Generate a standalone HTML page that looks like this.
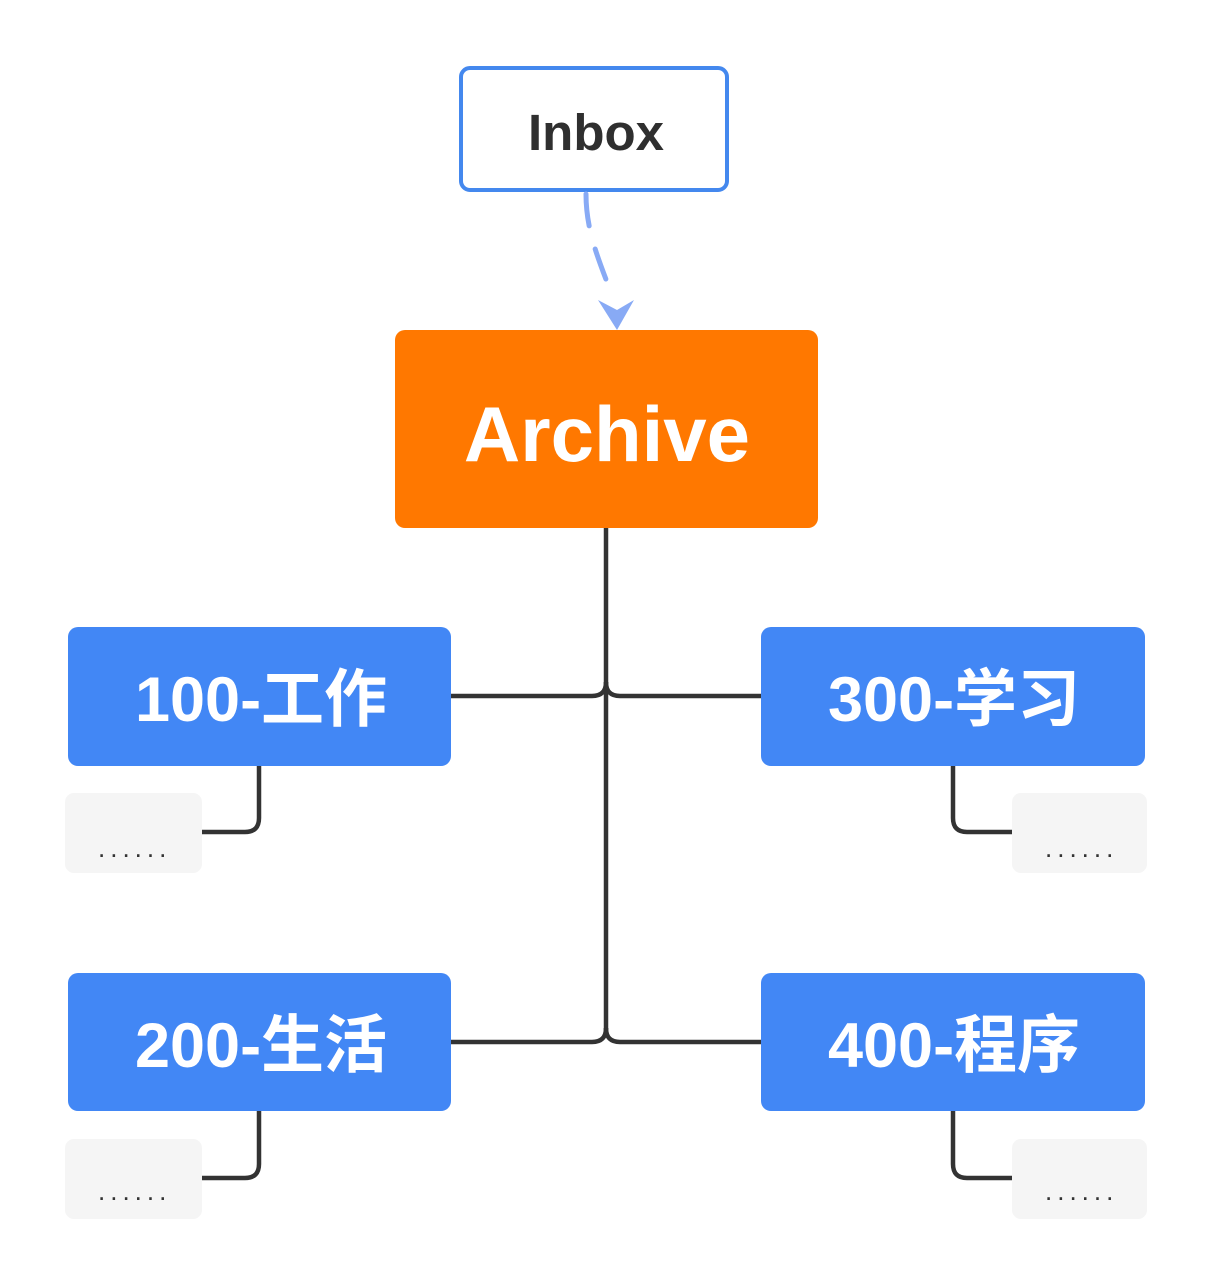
<!DOCTYPE html>
<html><head><meta charset="utf-8"><style>
html,body{margin:0;padding:0;background:#fff;}
svg{display:block;}
text{font-family:"Liberation Sans","Noto Sans CJK SC",sans-serif;font-weight:bold;}
</style></head><body>
<svg width="1211" height="1284" viewBox="0 0 1211 1284" xmlns="http://www.w3.org/2000/svg">
<rect x="0" y="0" width="1211" height="1284" fill="#fff"/>
<rect x="461" y="68" width="266" height="122" rx="9" fill="#fff" stroke="#4488ee" stroke-width="4"/>
<text x="596" y="150" font-size="51" fill="#2f2f2f" text-anchor="middle">Inbox</text>
<path d="M586,194 C586,230 598,258 610,290" fill="none" stroke="#88aaf5" stroke-width="5" stroke-linecap="round" stroke-dasharray="32,24"/>
<path d="M598,300 L617,330 L634,300 L617,310 Z" fill="#88aaf5"/>
<rect x="395" y="330" width="423" height="198" rx="10" fill="#ff7800"/>
<text x="607" y="461" font-size="78" fill="#fff" text-anchor="middle">Archive</text>
<g fill="none" stroke="#333" stroke-width="4.5">
<path d="M606,528 L606,1035"/>
<path d="M451,696 L592,696 Q606,696 606,682"/>
<path d="M761,696 L620,696 Q606,696 606,682"/>
<path d="M451,1042 L592,1042 Q606,1042 606,1028"/>
<path d="M761,1042 L620,1042 Q606,1042 606,1028"/>
<path d="M259,766 L259,818 Q259,832 245,832 L202,832"/>
<path d="M953,766 L953,818 Q953,832 967,832 L1012,832"/>
<path d="M259,1111 L259,1164 Q259,1178 245,1178 L202,1178"/>
<path d="M953,1111 L953,1164 Q953,1178 967,1178 L1012,1178"/>
</g>
<g fill="#4287f5">
<rect x="68" y="627" width="383" height="139" rx="10"/>
<rect x="761" y="627" width="384" height="139" rx="10"/>
<rect x="68" y="973" width="383" height="138" rx="10"/>
<rect x="761" y="973" width="384" height="138" rx="10"/>
</g>
<g font-size="63" fill="#fff" text-anchor="middle">
<text x="261" y="721">100-工作</text>
<text x="954" y="721">300-学习</text>
<text x="261" y="1067">200-生活</text>
<text x="954" y="1067">400-程序</text>
</g>
<g fill="#f5f5f5">
<rect x="65" y="793" width="137" height="80" rx="9"/>
<rect x="1012" y="793" width="135" height="80" rx="9"/>
<rect x="65" y="1139" width="137" height="80" rx="9"/>
<rect x="1012" y="1139" width="135" height="80" rx="9"/>
</g>
<g fill="#333">
<text x="98" y="857" font-size="26" style="font-weight:normal" letter-spacing="5">......</text>
<text x="1045" y="857" font-size="26" style="font-weight:normal" letter-spacing="5">......</text>
<text x="98" y="1200" font-size="26" style="font-weight:normal" letter-spacing="5">......</text>
<text x="1045" y="1200" font-size="26" style="font-weight:normal" letter-spacing="5">......</text>
</g>
</svg>
</body></html>
